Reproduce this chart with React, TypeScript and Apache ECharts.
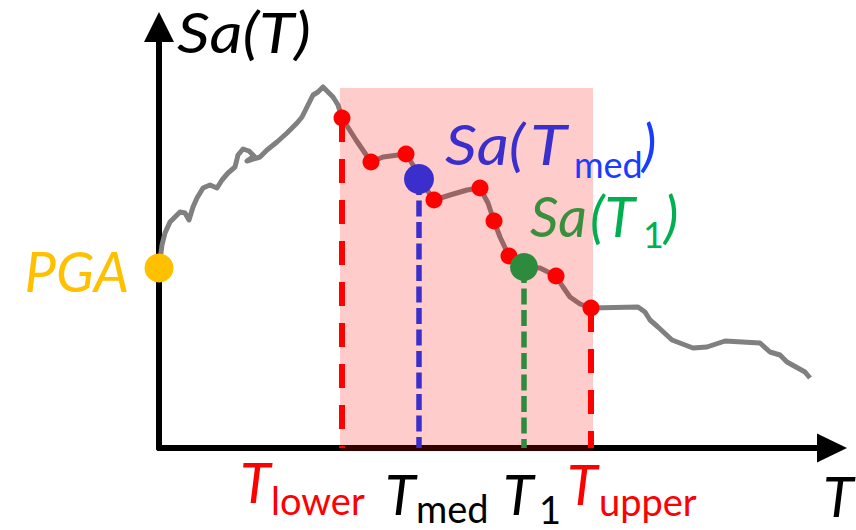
import React, { useEffect, useRef } from "react";
import * as echarts from "echarts";

// Response spectrum Sa(T) (schematic): period T and spectral acceleration Sa
const spectrumT = [
  0.0, 0.03, 0.06, 0.11, 0.16, 0.21, 0.26, 0.3, 0.34, 0.38, 0.44, 0.51, 0.58, 0.63, 0.69, 0.76, 0.79, 0.84,
  0.9, 0.95, 0.88, 1.01, 1.08, 1.18, 1.28, 1.38, 1.43, 1.48, 1.54, 1.59, 1.64, 1.69, 1.74, 1.79, 1.83,
  1.97, 2.12, 2.24, 2.47, 2.54, 2.6, 2.68, 2.75, 2.91, 3.08, 3.21, 3.29, 3.35, 3.41, 3.5, 3.65, 3.81,
  3.97, 4.04, 4.11, 4.21, 4.32, 4.79, 4.86, 4.91, 4.99, 5.13, 5.34, 5.48, 5.66, 6.01, 6.11, 6.21, 6.28,
  6.46, 6.51,
];
const spectrumSa = [
  0.45, 0.5075, 0.5375, 0.565, 0.5775, 0.59, 0.5875, 0.57, 0.6025, 0.625, 0.65, 0.6575, 0.65, 0.67, 0.6875,
  0.7025, 0.7325, 0.7475, 0.7425, 0.73, 0.7175, 0.7275, 0.745, 0.765, 0.7875, 0.8125, 0.8275, 0.8525,
  0.8825, 0.89, 0.9025, 0.89, 0.8775, 0.8575, 0.825, 0.77, 0.715, 0.7275, 0.735, 0.7075, 0.6725, 0.645,
  0.62, 0.6325, 0.645, 0.65, 0.6125, 0.5675, 0.5275, 0.48, 0.4525, 0.45, 0.43, 0.4025, 0.3775, 0.36, 0.35,
  0.3525, 0.34, 0.32, 0.3025, 0.27, 0.25, 0.2525, 0.2675, 0.2625, 0.24, 0.2325, 0.215, 0.19, 0.175,
];

// Sampled periods between T_lower and T_upper
const sampleT = [1.83, 2.12, 2.47, 2.75, 3.21, 3.35, 3.5, 3.97, 4.32];
const sampleSa = [0.825, 0.715, 0.735, 0.62, 0.65, 0.5675, 0.48, 0.43, 0.35];

const tLower = 1.83;
const saLower = 0.825;
const tUpper = 4.32;
const saUpper = 0.35;
const tMed = 2.6;
const saMed = 0.6725;
const t1 = 3.65;
const sa1 = 0.4525;
const pga = 0.45;
const bandT = [1.81, 4.34];
const bandSa = [-0.008, 0.9];

const xMax = 6.73;
const yMax = 1.0525;

const RED = "#FF0000";
const BLUE = "#3A2ECC";
const BLUE2 = "#1A3CFF";
const GREEN_DOT = "#2E8B3E";
const GREEN_TXT = "#3A8F3E";
const GREEN = "#00B050";
const ORANGE = "#FFC000";

const FONT = "Lato, 'Open Sans', sans-serif";
const MAIN = 56;
const SUB = 38;

// baseline-positioned text part
function part(
  text: string,
  x: number,
  baseline: number,
  size: number,
  fill: string,
  italic: boolean,
  scaleX = 1,
  align = "left"
) {
  return {
    type: "text",
    x,
    y: baseline - 0.387 * size,
    scaleX,
    z: 100,
    style: {
      text,
      font: `${italic ? "italic " : ""}${size}px ${FONT}`,
      fill,
      textAlign: align,
      textVerticalAlign: "middle",
    },
  };
}

export default function App() {
  const ref = useRef<HTMLDivElement>(null);
  useEffect(() => {
    if (!ref.current) return;
    const chart = echarts.init(ref.current, undefined, { renderer: "svg" });
    const axisCommon = {
      type: "value",
      axisTick: { show: false },
      axisLabel: { show: false },
      splitLine: { show: false },
    };
    chart.setOption({
      animation: false,
      grid: { left: 159, right: 24, top: 27, bottom: 82 },
      xAxis: {
        ...axisCommon,
        min: 0,
        max: xMax,
        axisLine: {
          show: true,
          onZero: true,
          symbol: ["none", "triangle"],
          symbolSize: [29, 30],
          lineStyle: { color: "#000", width: 6 },
        },
      },
      yAxis: {
        ...axisCommon,
        min: 0,
        max: yMax,
        axisLine: {
          show: true,
          onZero: true,
          symbol: ["none", "triangle"],
          symbolSize: [30, 30],
          lineStyle: { color: "#000", width: 6 },
        },
      },
      series: [
        {
          type: "line",
          data: spectrumT.map((t, i) => [t, spectrumSa[i]]),
          showSymbol: false,
          symbol: "none",
          lineStyle: { color: "#808080", width: 5, join: "round" },
          z: 2,
        },
        {
          type: "custom",
          z: 3,
          data: [[bandT[0], bandT[1], bandSa[1], bandSa[0]]],
          renderItem: (params: any, api: any) => {
            const p1 = api.coord([api.value(0), api.value(2)]);
            const p2 = api.coord([api.value(1), api.value(3)]);
            return {
              type: "rect",
              shape: { x: p1[0], y: p1[1], width: p2[0] - p1[0], height: p2[1] - p1[1] },
              style: { fill: "rgba(255,0,0,0.2)" },
            };
          },
        },
        {
          type: "line",
          data: [[tLower, saLower], [tLower, 0]],
          symbol: "none",
          lineStyle: { color: RED, width: 6, type: [24, 17] },
          z: 4,
        },
        {
          type: "line",
          data: [[tUpper, saUpper], [tUpper, 0]],
          symbol: "none",
          lineStyle: { color: RED, width: 6, type: [24, 17] },
          z: 4,
        },
        {
          type: "line",
          data: [[tMed, saMed], [tMed, 0]],
          symbol: "none",
          lineStyle: { color: BLUE, width: 5.5, type: [16, 5.5] },
          z: 4,
        },
        {
          type: "line",
          data: [[t1, sa1], [t1, 0]],
          symbol: "none",
          lineStyle: { color: GREEN_DOT, width: 5.5, type: [16, 5.5] },
          z: 4,
        },
        {
          type: "scatter",
          data: sampleT.map((t, i) => [t, sampleSa[i]]),
          symbolSize: 17,
          itemStyle: { color: RED, opacity: 1 },
          clip: false,
          z: 5,
        },
        {
          type: "scatter",
          data: [[tMed, saMed]],
          symbolSize: 30,
          itemStyle: { color: BLUE, opacity: 1 },
          clip: false,
          z: 6,
        },
        {
          type: "scatter",
          data: [[t1, sa1]],
          symbolSize: 28,
          itemStyle: { color: GREEN_DOT, opacity: 1 },
          clip: false,
          z: 6,
        },
        {
          type: "scatter",
          data: [[0, pga]],
          symbolSize: 29,
          itemStyle: { color: ORANGE, opacity: 1 },
          clip: false,
          z: 6,
        },
      ],
      graphic: [
        part("Sa(T)", 177, 53, MAIN, "#000", true, 1.15),
        part("PGA", 129, 292, MAIN, ORANGE, true, 1.0, "right"),
        part("Sa(", 445, 165, MAIN, BLUE, true, 1.12),
        part("T", 530, 165, MAIN, BLUE, true, 1.2),
        part("med", 574, 178, 36, BLUE2, false),
        part(")", 642, 165, MAIN, BLUE2, true),
        part("Sa", 530, 237, MAIN, GREEN_TXT, true),
        part("(T", 590, 237, MAIN, GREEN, true),
        part("1", 643, 248, 36, GREEN, false),
        part(")", 664, 237, MAIN, GREEN, true),
        part("T", 240, 503, MAIN, RED, true),
        part("lower", 271, 515, SUB, RED, false),
        part("T", 385, 515, MAIN, "#000", true),
        part("med", 416, 523, SUB, "#000", false),
        part("T", 503, 515, MAIN, "#000", true),
        part("1", 539, 524, SUB, "#000", false),
        part("T", 567, 505, MAIN, RED, true),
        part("upper", 599, 516, SUB, RED, false),
        part("T", 823, 517, MAIN, "#000", true),
      ],
    });
    return () => chart.dispose();
  }, []);
  return (
    <div
      ref={ref}
      style={{ position: "fixed", left: 0, top: 0, width: 856, height: 530, background: "#fff" }}
    />
  );
}
